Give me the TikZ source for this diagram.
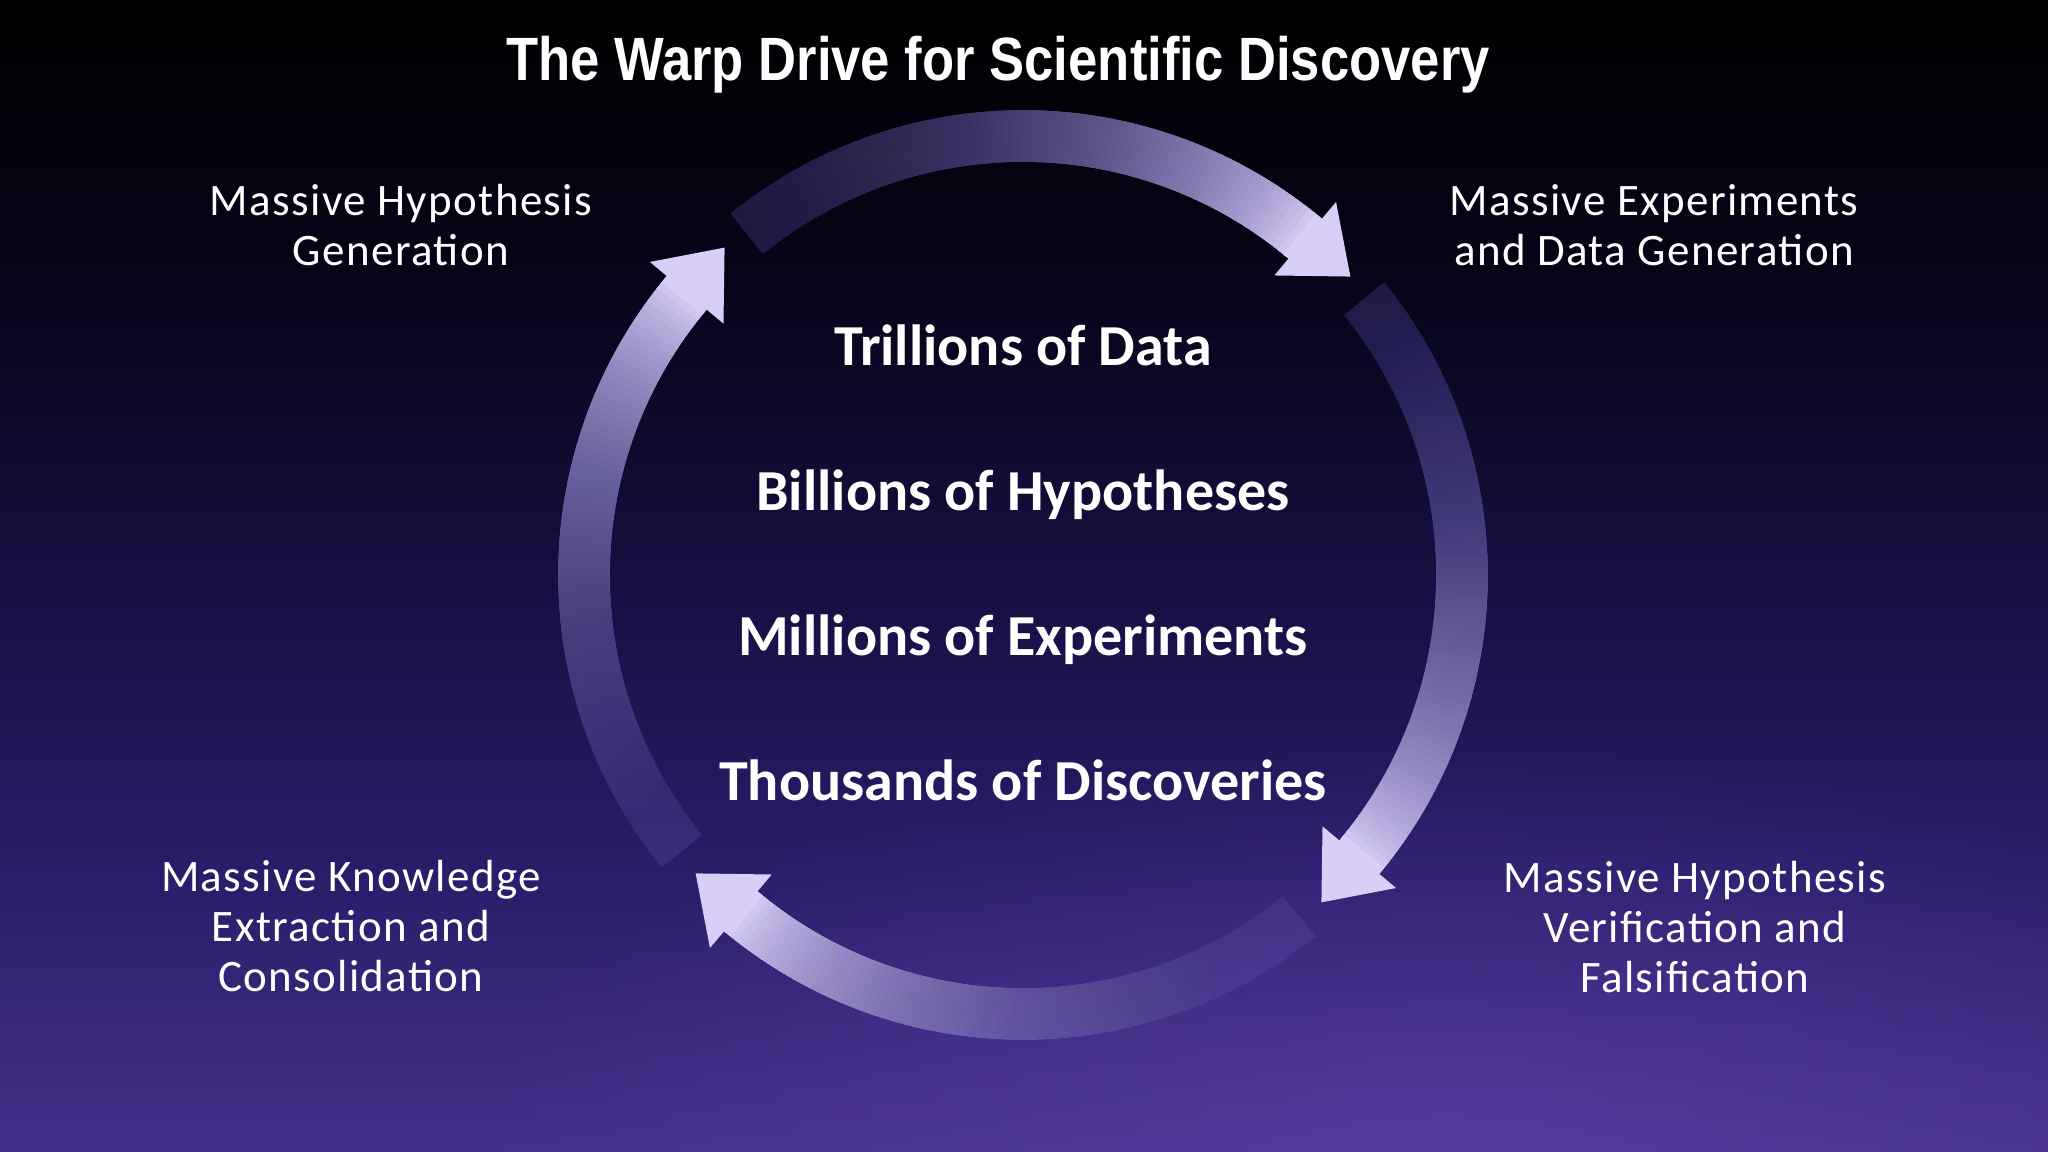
\documentclass[tikz,border=0pt]{standalone}
\usepackage{fontspec}
\setmainfont{Carlito}
\newfontfamily\titlefont[FakeStretch=0.86]{Liberation Sans}
\newfontfamily\labelfont[LetterSpace=3]{Carlito}
\usetikzlibrary{fadings}

\definecolor{bgA}{HTML}{44308A}
\definecolor{bgB}{HTML}{291C68}
\definecolor{bgC}{HTML}{150F40}
\definecolor{bgD}{HTML}{06051A}
\definecolor{bgglow}{HTML}{6A48B4}
\definecolor{lav}{HTML}{D8CEF7}
\definecolor{ind}{HTML}{5E50A8}

\tikzfading[name=glowfade, inner color=transparent!0, outer color=transparent!100]

\begin{document}
\begin{tikzpicture}[x=0.01cm, y=0.01cm,
    title/.style={text=white, font=\titlefont\bfseries\fontsize{17.4}{20}\selectfont},
    count/.style={text=white, font=\bfseries\fontsize{16.5}{19}\selectfont},
    stage/.style={text=white, align=center, font=\labelfont\fontsize{12.8}{14.2}\selectfont},
  ]
  \useasboundingbox (0,0) rectangle (2048,1152);

  % background
  \shade[top color=black, bottom color=bgD] (0,860) rectangle (2048,1152);
  \shade[top color=bgD, bottom color=bgC] (0,580) rectangle (2048,860);
  \shade[top color=bgC, bottom color=bgB] (0,290) rectangle (2048,580);
  \shade[top color=bgB, bottom color=bgA] (0,0) rectangle (2048,290);
  \fill[bgglow, path fading=glowfade, opacity=0.45] (1450,0) ellipse (1000 and 420);

  % cycle arrows
  \begin{scope}[shift={(1023,577)}]
    \foreach \r in {0,90,180,270}{
      \pgfmathsetmacro\ta{129-\r}
      \pgfmathsetmacro\ha{50-\r}
      \fill[ind, opacity=0.3] (\ta:413) arc[start angle=\ta, end angle=\ha, radius=413]
        -- (\ha:465) arc[start angle=\ha, end angle=\ta, radius=465] -- cycle;
      \foreach \k in {1,...,80}{
        \pgfmathsetmacro\op{1/(81-\k)}
        \pgfmathsetmacro\a{\ta-(\ta-\ha)*(\k-1)/80}
        \pgfmathtruncatemacro\pc{100*(\k/80)^0.7}
        \fill[lav!\pc!ind, opacity=\op] (\a:413) arc[start angle=\a, end angle=\ha, radius=413]
          -- (\ha:465) arc[start angle=\ha, end angle=\a, radius=465] -- cycle;
      }
      \fill[lav] (\ha:487) -- (\ha-7.65:443) -- (\ha:391) -- cycle;
    }
  \end{scope}

  \node[title, anchor=base] (title) at (998,1071) {The Warp Drive for Scientific Discovery};

  \node[count, anchor=base] (trillions) at (1023,786) {Trillions of Data};
  \node[count, anchor=base] (billions) at (1023,641) {Billions of Hypotheses};
  \node[count, anchor=base] (millions) at (1023,496) {Millions of Experiments};
  \node[count, anchor=base] (thousands) at (1023,351) {Thousands of Discoveries};

  \node[stage] (hypgen) at (401,927) {Massive Hypothesis\\Generation};
  \node[stage] (expgen) at (1654,927) {Massive Experiments\\and Data Generation};
  \node[stage] (verify) at (1695,225) {Massive Hypothesis\\Verification and\\Falsification};
  \node[stage] (extract) at (351,226) {Massive Knowledge\\Extraction and\\Consolidation};
\end{tikzpicture}
\end{document}
